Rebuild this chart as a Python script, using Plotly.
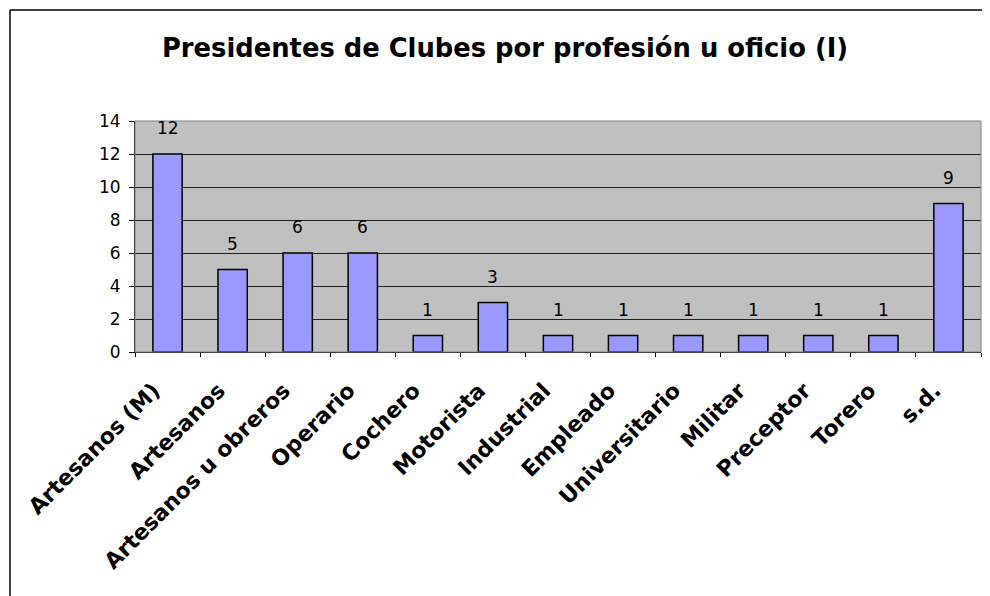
import plotly.graph_objects as go

categories = ["Artesanos (M)", "Artesanos", "Artesanos u obreros", "Operario", "Cochero",
              "Motorista", "Industrial", "Empleado", "Universitario", "Militar",
              "Preceptor", "Torero", "s.d."]
values = [12, 5, 6, 6, 1, 3, 1, 1, 1, 1, 1, 1, 9]
y_ticks = [0, 2, 4, 6, 8, 10, 12, 14]
title_text = "Presidentes de Clubes por profesión u oficio (I)"

# page is rendered with an 8px body margin
W, H = 982, 588
L, R, T, B = 127, 9, 113, 244
pw, ph = W - L - R, H - T - B

def px_x(px):
    return (px - L) / pw

def px_y(py):
    return (H - B - py) / ph

FONT = "DejaVu Sans, Arial"

fig = go.Figure()
fig.add_trace(go.Bar(
    x=categories, y=values, width=0.45,
    marker=dict(color="#9999FF", line=dict(color="#000000", width=1.5)),
    hoverinfo="x+y",
))

for c, v in zip(categories, values):
    fig.add_annotation(x=c, y=v, text=str(v), showarrow=False, yanchor="bottom",
                       yshift=14, font=dict(family=FONT, size=17, color="#000"))

fig.update_layout(
    width=W, height=H,
    margin=dict(l=L, r=R, t=T, b=B, autoexpand=False),
    paper_bgcolor="white", plot_bgcolor="#C0C0C0",
    showlegend=False,
    title=dict(text="<b>" + title_text + "</b>", x=497 / W, xanchor="center",
               xref="container", y=1 - 40 / H, yanchor="middle", yref="container",
               font=dict(family=FONT, size=25.8, color="#000")),
    xaxis=dict(
        type="category", tickangle=-45, ticks="outside", tickson="boundaries",
        ticklen=4, tickcolor="#000", showline=True, linecolor="#000", linewidth=1,
        mirror=False, showgrid=False, ticklabelshift=-14, ticklabelstandoff=16,
        tickfont=dict(family=FONT, size=22, color="#000", weight="bold"),
        range=[-0.5, len(categories) - 0.5],
    ),
    yaxis=dict(
        range=[0, 14], tickvals=y_ticks, ticks="outside", ticklen=5, tickcolor="#000",
        showline=True, linecolor="#000", linewidth=1, showgrid=True, gridcolor="#222",
        gridwidth=1, zeroline=False, ticklabelstandoff=5,
        tickfont=dict(family=FONT, size=17, color="#000"),
    ),
)

# plot area border in gray
fig.add_shape(type="rect", xref="paper", yref="paper", x0=0, x1=1, y0=0, y1=1,
              line=dict(color="#808080", width=1), fillcolor="rgba(0,0,0,0)", layer="above")
# chart outer frame (left and top edges visible)
fig.add_shape(type="line", xref="paper", yref="paper", x0=px_x(2), x1=px_x(2),
              y0=px_y(2), y1=px_y(600), line=dict(color="#000", width=1.5))
fig.add_shape(type="line", xref="paper", yref="paper", x0=px_x(2), x1=px_x(995),
              y0=px_y(2), y1=px_y(2), line=dict(color="#000", width=1.5))

fig.write_html("out.html")
